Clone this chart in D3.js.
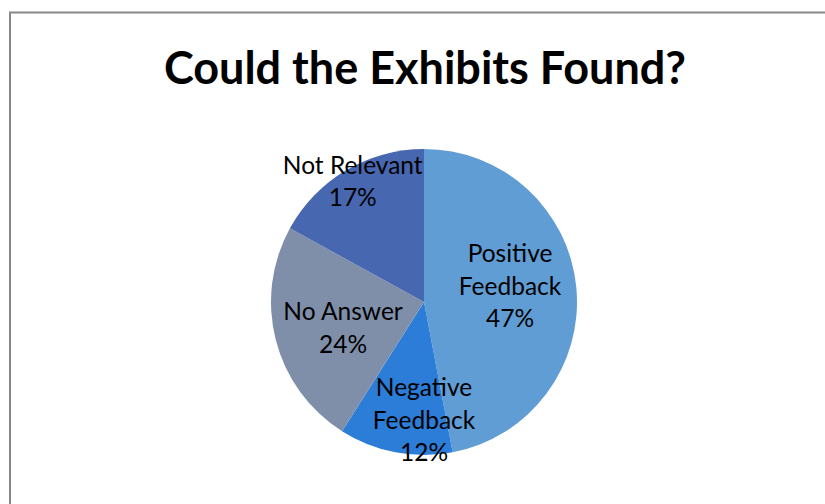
<!DOCTYPE html>
<html>
<head>
<meta charset="utf-8">
<script src="https://cdn.jsdelivr.net/npm/d3@7/dist/d3.min.js"></script>
<style>
  body { margin: 0; background: #fff; }
  svg { display: block; }
</style>
</head>
<body>
<svg width="825" height="504"></svg>
<script>
var width = 825;
var height = 504;

// data
var categories = ["Positive Feedback", "Negative Feedback", "No Answer", "Not Relevant"];
var labelLines = [["Positive", "Feedback"], ["Negative", "Feedback"], ["No Answer"], ["Not Relevant"]];
var percents = [47, 12, 24, 17];
var colors = ["#5f9dd4", "#2b7dd8", "#7f8faa", "#4767b0"];

// label placement (radius from centre, angle nudge in degrees)
var labelRadius = [87.5, 118, 85, 140];
var labelNudge = [-5.1, -10.8, -3.4, 0];

var svg = d3.select("svg");

// frame of the chart area
svg.append("rect")
    .attr("x", 10)
    .attr("y", 12.5)
    .attr("width", 900)
    .attr("height", 600)
    .attr("fill", "none")
    .attr("stroke", "#888")
    .attr("stroke-width", 2);

svg.append("text")
    .attr("x", 425)
    .attr("y", 84)
    .attr("text-anchor", "middle")
    .style("font-family", "Lato, 'Open Sans', sans-serif")
    .style("font-weight", "bold")
    .style("font-size", "45px")
    .text("Could the Exhibits Found?");

var cx = 424, cy = 302, radius = 153;

var pie = d3.pie().sort(null).value(d => d);
var arcs = pie(percents);
var arc = d3.arc().innerRadius(0).outerRadius(radius);

var g = svg.append("g").attr("transform", "translate(" + cx + "," + cy + ")");

g.selectAll("path.slice")
    .data(arcs)
    .enter()
    .append("path")
    .attr("class", "slice")
    .attr("d", arc)
    .attr("fill", (d, i) => colors[i]);

var lineH = 32.5;
arcs.forEach(function(d, i) {
    var a = (d.startAngle + d.endAngle) / 2 + labelNudge[i] * Math.PI / 180;
    var x = labelRadius[i] * Math.sin(a);
    var y = -labelRadius[i] * Math.cos(a);
    var lines = labelLines[i].concat([percents[i] + "%"]);
    var t = g.append("text")
        .attr("text-anchor", "middle")
        .style("font-family", "Lato, 'Open Sans', sans-serif")
        .style("font-size", "24.5px")
        .attr("fill", "#000");
    var top = y - (lines.length - 1) * lineH / 2;
    lines.forEach(function(s, k) {
        t.append("tspan")
            .attr("x", x)
            .attr("y", top + k * lineH)
            .attr("dy", "0.35em")
            .text(s);
    });
});
</script>
</body>
</html>
